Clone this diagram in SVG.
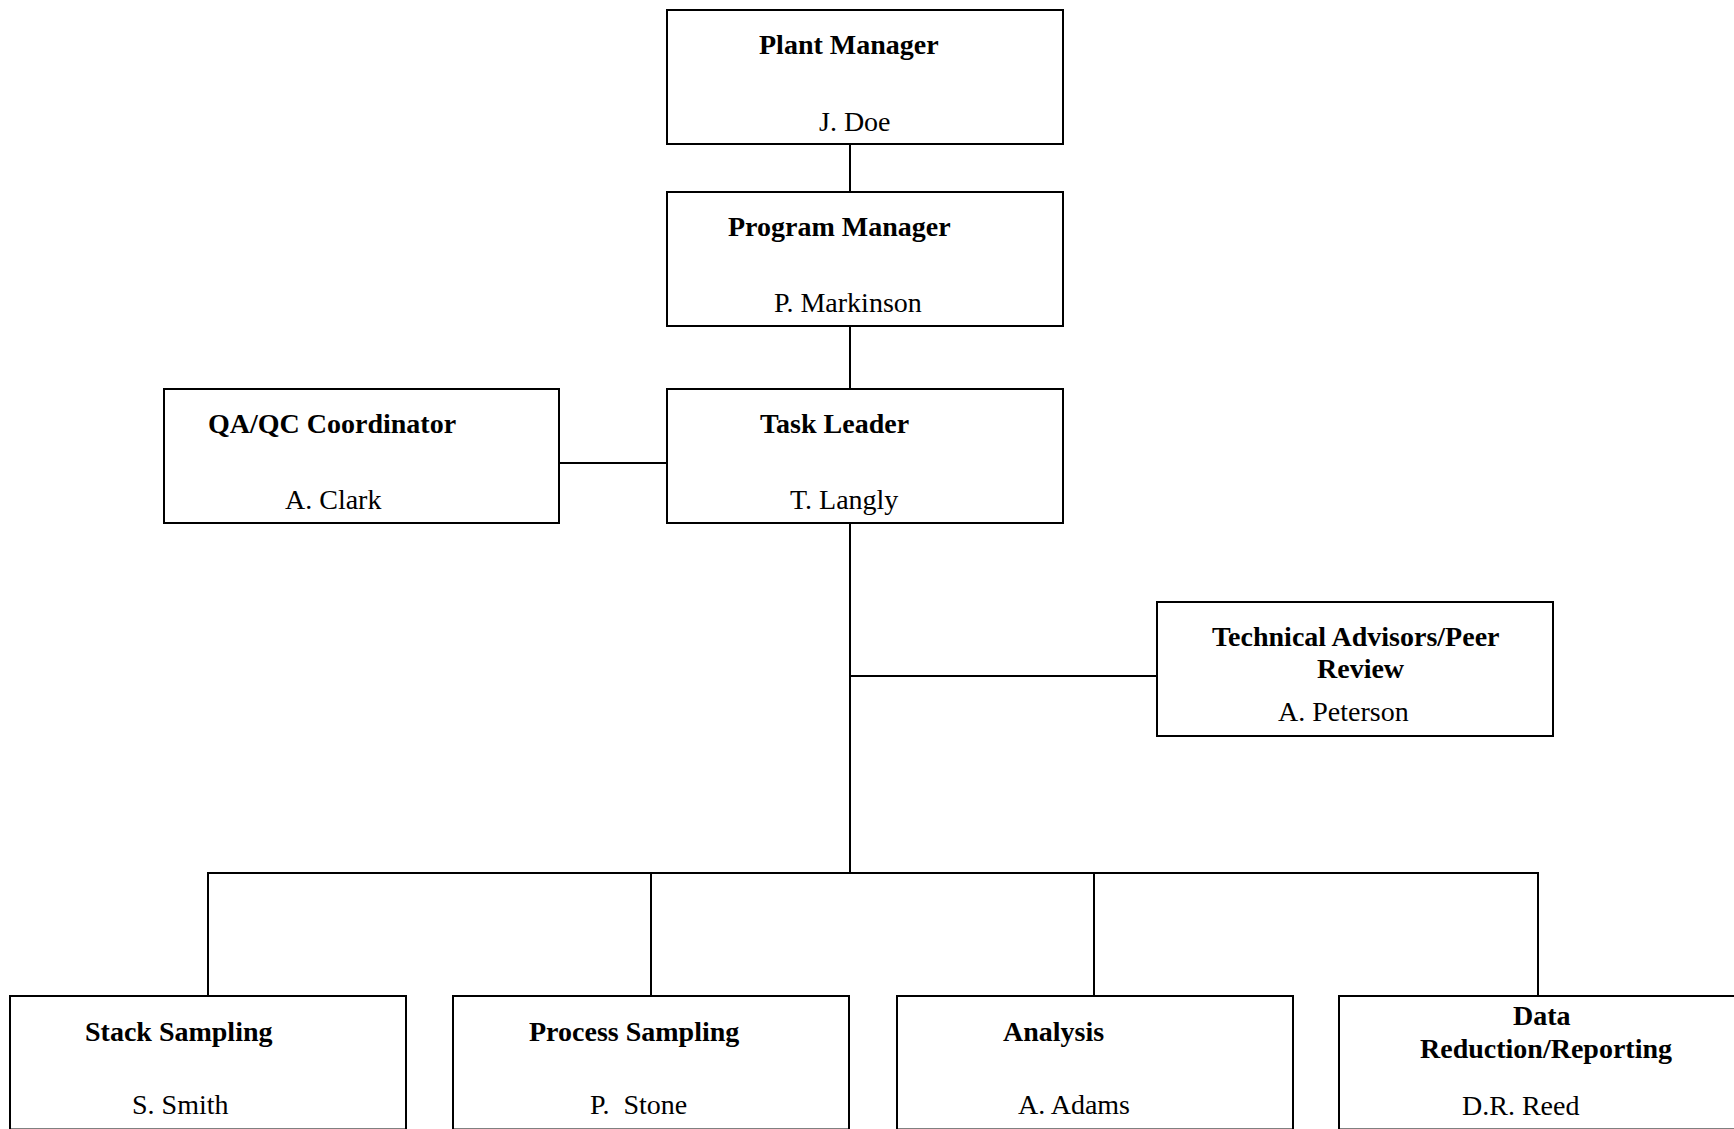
<svg xmlns="http://www.w3.org/2000/svg" width="1734" height="1129" viewBox="0 0 1734 1129">
  <style>
    .box { fill: #ffffff; stroke: #000000; stroke-width: 2; }
    .link { stroke: #000000; stroke-width: 2; fill: none; }
    .title { font-family: "Liberation Serif", "Times New Roman", serif; font-size: 28px; font-weight: bold; fill: #000000; }
    .name { font-family: "Liberation Serif", "Times New Roman", serif; font-size: 28px; fill: #000000; }
  </style>
  <rect width="1734" height="1129" fill="#ffffff"/>

  <!-- reporting lines -->
  <g id="connectors">
    <line class="link" x1="850" y1="144" x2="850" y2="192"/>
    <line class="link" x1="850" y1="326" x2="850" y2="389"/>
    <line class="link" x1="559" y1="463" x2="667" y2="463"/>
    <line class="link" x1="850" y1="523" x2="850" y2="874"/>
    <line class="link" x1="850" y1="676" x2="1157" y2="676"/>
    <line class="link" x1="207" y1="873" x2="1539" y2="873"/>
    <line class="link" x1="208" y1="873" x2="208" y2="996"/>
    <line class="link" x1="651" y1="873" x2="651" y2="996"/>
    <line class="link" x1="1094" y1="873" x2="1094" y2="996"/>
    <line class="link" x1="1538" y1="873" x2="1538" y2="996"/>
  </g>

  <g id="plant-manager">
    <rect class="box" x="667" y="10" width="396" height="134"/>
    <text class="title" x="759" y="54">Plant Manager</text>
    <text class="name" x="819" y="131">J. Doe</text>
  </g>

  <g id="program-manager">
    <rect class="box" x="667" y="192" width="396" height="134"/>
    <text class="title" x="728" y="236">Program Manager</text>
    <text class="name" x="774" y="312">P. Markinson</text>
  </g>

  <g id="qa-qc-coordinator">
    <rect class="box" x="164" y="389" width="395" height="134"/>
    <text class="title" x="208" y="433">QA/QC Coordinator</text>
    <text class="name" x="285" y="509">A. Clark</text>
  </g>

  <g id="task-leader">
    <rect class="box" x="667" y="389" width="396" height="134"/>
    <text class="title" x="760" y="433">Task Leader</text>
    <text class="name" x="790" y="509">T. Langly</text>
  </g>

  <g id="technical-advisors">
    <rect class="box" x="1157" y="602" width="396" height="134"/>
    <text class="title" x="1212" y="646">Technical Advisors/Peer</text>
    <text class="title" x="1317" y="678">Review</text>
    <text class="name" x="1278" y="721">A. Peterson</text>
  </g>

  <g id="stack-sampling">
    <rect class="box" x="10" y="996" width="396" height="133.5"/>
    <text class="title" x="85" y="1041">Stack Sampling</text>
    <text class="name" x="132" y="1114">S. Smith</text>
  </g>

  <g id="process-sampling">
    <rect class="box" x="453" y="996" width="396" height="133.5"/>
    <text class="title" x="529" y="1041">Process Sampling</text>
    <text class="name" x="590" y="1114" xml:space="preserve">P.  Stone</text>
  </g>

  <g id="analysis">
    <rect class="box" x="897" y="996" width="396" height="133.5"/>
    <text class="title" x="1003" y="1041">Analysis</text>
    <text class="name" x="1018" y="1114">A. Adams</text>
  </g>

  <g id="data-reduction">
    <rect class="box" x="1339" y="996" width="398" height="133.5"/>
    <text class="title" x="1513" y="1025">Data</text>
    <text class="title" x="1420" y="1058">Reduction/Reporting</text>
    <text class="name" x="1462" y="1115">D.R. Reed</text>
  </g>
</svg>
